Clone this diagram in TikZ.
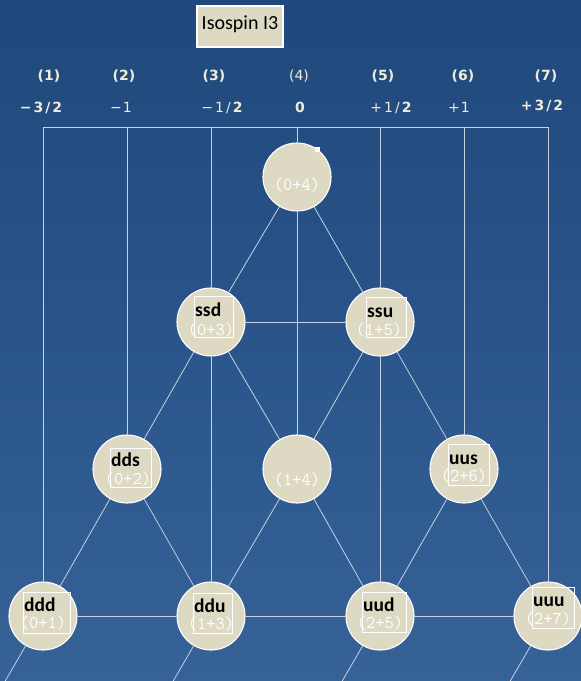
\documentclass[tikz,border=0pt]{standalone}
\usepackage{fontspec}
\setmainfont{Carlito}
\newfontfamily\hdr{DejaVu Sans}
\definecolor{bgtop}{RGB}{31,72,124}
\definecolor{bgbot}{RGB}{54,98,152}
\definecolor{tanfill}{RGB}{221,217,195}
\definecolor{cream}{RGB}{240,236,216}
\definecolor{edgec}{RGB}{200,210,226}
\tikzset{
  ball/.style={circle,minimum size=68pt,inner sep=0pt,fill=tanfill,draw=white,line width=1.1pt},
  lbox/.style={rectangle,draw=white,line width=1.3pt,inner sep=0pt,anchor=north west},
  qtext/.style={font=\bfseries\fontsize{19.5}{19.5}\selectfont,text=black,inner sep=0pt,anchor=base west},
  numtext/.style={font=\ttfamily\fontsize{18}{18}\selectfont,text=white,inner sep=0pt,anchor=base},
  hd/.style={font=\hdr\fontsize{14}{14}\selectfont,text=cream,inner sep=0pt,anchor=base},
  edge/.style={draw=edgec,line width=0.8pt}
}
\newcommand{\bd}[1]{{\bfseries #1}}
\begin{document}
\begin{tikzpicture}[x=1pt,y=-1pt]
\shade[top color=bgtop,bottom color=bgbot] (0,0) rectangle (581,681);
\useasboundingbox (0,0) rectangle (581,681);
% title box
\node[rectangle,fill=tanfill,draw=white,line width=1.2pt,minimum width=86pt,minimum height=41pt,inner sep=0pt] (title) at (240,26.5) {};
\node[font=\fontsize{20}{20}\selectfont,text=black,inner sep=0pt,anchor=base] (titletext) at (240,29) {Isospin I3};
% header row 1
\node[hd] (h1) at (49,80) {\bd{(1)}};
\node[hd] (h2) at (124,80) {\bd{(2)}};
\node[hd] (h3) at (214,80) {\bd{(3)}};
\node[hd] (h4) at (299,80) {(4)};
\node[hd] (h5) at (383,80) {\bd{(5)}};
\node[hd] (h6) at (463,80) {\bd{(6)}};
\node[hd] (h7) at (546,80) {\bd{(7)}};
% header row 2
\node[hd] (v1) at (41,112) {\bd{\char"2212\kern2pt 3\kern2pt/\kern2pt 2}};
\node[hd] (v2) at (121,112) {\char"2212\kern1pt 1};
\node[hd] (v3) at (222,112) {\char"2212\kern2pt 1\kern2pt/\kern2pt\bd{2}};
\node[hd] (v4) at (300,112) {\bd{0}};
\node[hd] (v5) at (391,112) {+\kern2pt 1\kern2pt/\kern2pt\bd{2}};
\node[hd] (v6) at (459,112) {+\kern1pt 1};
\node[hd] (v7) at (542,110) {\bd{+\kern2pt 3\kern2pt/\kern2pt 2}};
% top coordinates
\coordinate (t1) at (43,127);
\coordinate (t2) at (127,127);
\coordinate (t3) at (211,127);
\coordinate (t4) at (297,127);
\coordinate (t5) at (380,127);
\coordinate (t6) at (464,127);
\coordinate (t7) at (548,127);
% nodes
\node[ball] (n04) at (297,177) {};
\node[ball] (ssd) at (211,322) {};
\node[ball] (ssu) at (380,322) {};
\node[ball] (dds) at (127,469) {};
\node[ball] (n14) at (297,469) {};
\node[ball] (uus) at (464,469) {};
\node[ball] (ddd) at (43,616) {};
\node[ball] (ddu) at (211,616) {};
\node[ball] (uud) at (380,616) {};
\node[ball] (uuu) at (548,616) {};
% extension ends
\coordinate (e1) at (0,690);
\coordinate (e2) at (168,690);
\coordinate (e3) at (337,690);
\coordinate (e4) at (505,690);
% connectors
\draw[edge] (t1) -- (t7);
\draw[edge] (t1) -- (ddd);
\draw[edge] (t2) -- (dds);
\draw[edge] (t3) -- (ssd);
\draw[edge] (ssd) -- (ddu);
\draw[edge] (t4) -- (n04);
\draw[edge] (n04) -- (n14);
\draw[edge] (t5) -- (ssu);
\draw[edge] (ssu) -- (uud);
\draw[edge] (t6) -- (uus);
\draw[edge] (t7) -- (uuu);
\draw[edge] (n04) -- (ssd);
\draw[edge] (n04) -- (ssu);
\draw[edge] (ssd) -- (ssu);
\draw[edge] (ssd) -- (dds);
\draw[edge] (ssd) -- (n14);
\draw[edge] (ssu) -- (n14);
\draw[edge] (ssu) -- (uus);
\draw[edge] (dds) -- (ddd);
\draw[edge] (dds) -- (ddu);
\draw[edge] (n14) -- (ddu);
\draw[edge] (n14) -- (uud);
\draw[edge] (uus) -- (uud);
\draw[edge] (uus) -- (uuu);
\draw[edge] (ddd) -- (ddu);
\draw[edge] (ddu) -- (uud);
\draw[edge] (uud) -- (uuu);
\draw[edge] (ddd) -- (e1);
\draw[edge] (ddu) -- (e2);
\draw[edge] (uud) -- (e3);
\draw[edge] (uuu) -- (e4);
% label boxes
\node[rectangle,fill=white,inner sep=0pt,minimum size=5pt] (b04) at (317.5,149.5) {};
\node[lbox,minimum width=39pt,minimum height=41pt] (bssd) at (194,296) {};
\node[lbox,minimum width=40pt,minimum height=40pt] (bssu) at (366,297) {};
\node[lbox,minimum width=41pt,minimum height=39pt] (bdds) at (110,448) {};
\node[lbox,minimum width=41pt,minimum height=41pt] (buus) at (448,444) {};
\node[lbox,minimum width=47pt,minimum height=41pt] (bddd) at (23,592) {};
\node[lbox,minimum width=39pt,minimum height=40pt] (bddu) at (193,593) {};
\node[lbox,minimum width=44pt,minimum height=40pt] (buud) at (362,592) {};
\node[lbox,minimum width=42pt,minimum height=41pt] (buuu) at (532,587) {};
% quark texts
\node[qtext] (lssd) at (195,316) {ssd};
\node[qtext] (lssu) at (367,317) {ssu};
\node[qtext] (ldds) at (111,466) {dds};
\node[qtext] (luus) at (449,464) {uus};
\node[qtext] (lddd) at (24,611) {ddd};
\node[qtext] (lddu) at (194,612) {ddu};
\node[qtext] (luud) at (363,611) {uud};
\node[qtext] (luuu) at (533,606) {uuu};
% numbers
\node[numtext] (m04) at (297,190) {(0+4)};
\node[numtext] (mssd) at (211,335) {(0+3)};
\node[numtext] (mssu) at (379,335) {(1+5)};
\node[numtext] (mdds) at (128,484) {(0+2)};
\node[numtext] (mn14) at (297,485) {(1+4)};
\node[numtext] (muus) at (464,481) {(2+6)};
\node[numtext] (mddd) at (43,628) {(0+1)};
\node[numtext] (mddu) at (211,629) {(1+3)};
\node[numtext] (muud) at (380,628) {(2+5)};
\node[numtext] (muuu) at (548,624) {(2+7)};
\end{tikzpicture}
\end{document}
